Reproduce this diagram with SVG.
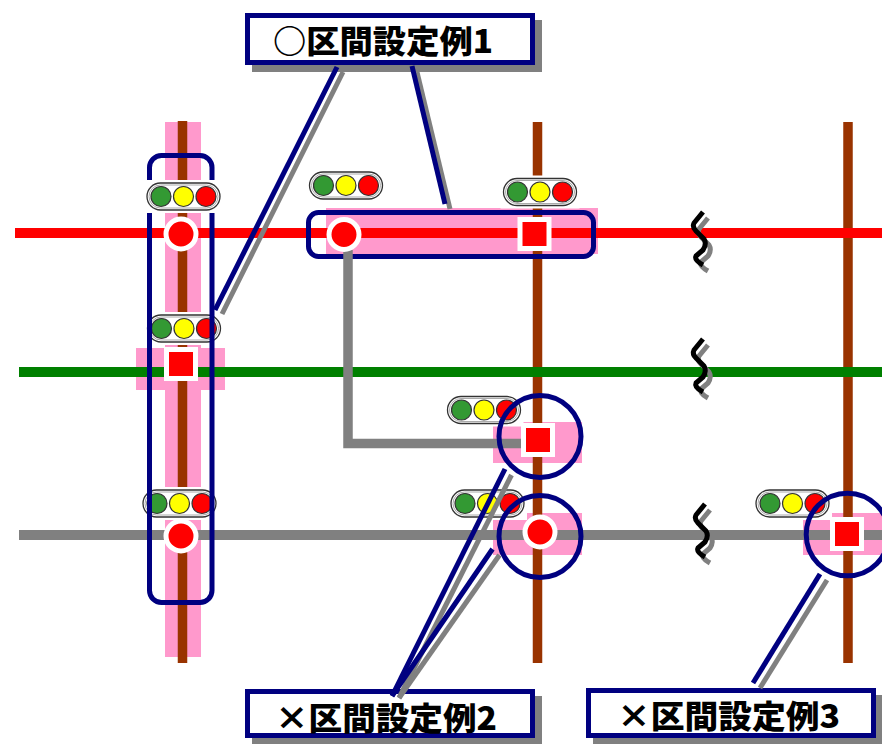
<svg xmlns="http://www.w3.org/2000/svg" xmlns:xlink="http://www.w3.org/1999/xlink" width="882" height="744" viewBox="0 0 882 744">
<style>
.pink{fill:#FF99CC}
.track{stroke:#993300;stroke-width:9.5}
.hl{stroke-width:10}
.navy{fill:none;stroke:#000080;stroke-width:5}
.wave{fill:none;stroke-width:5;stroke-linejoin:round}
.cl{stroke-width:5;fill:none}
.lbl{font-family:"Noto Sans CJK JP","Noto Sans CJK SC",sans-serif;font-weight:900;font-size:32px;fill:#000}
.mk{fill:#FF0000;stroke:#FFFFFF;stroke-width:5}
</style>
<defs>
<g id="sig">
<rect x="-39.5" y="-16.5" width="79" height="33" fill="#FFFFFF"/>
<rect x="-36.5" y="-13.5" width="73" height="27" rx="13.5" fill="#FFFFFF" stroke="#333333" stroke-width="1.3"/>
<rect x="-34.5" y="-11.5" width="69" height="23" rx="11.5" fill="none" stroke="#AAAAAA" stroke-width="1"/>
<circle cx="-22.5" cy="0" r="10" fill="#339933" stroke="#333333" stroke-width="1.2"/>
<circle cx="0" cy="0" r="10" fill="#FFFF00" stroke="#333333" stroke-width="1.2"/>
<circle cx="22.5" cy="0" r="10" fill="#FF0000" stroke="#333333" stroke-width="1.2"/>
</g>
<path id="wv" d="M3,-21 L-6,-10 Q-8,-6 -4,-2 L4,6 Q7,11 3,17 L-4,23 Q-6,27 3,32"/>
</defs>

<g id="highlights">
<rect class="pink" x="165" y="122" width="36" height="535"/>
<rect class="pink" x="136" y="348" width="89" height="42"/>
<rect class="pink" x="326" y="208" width="272" height="46"/>
<rect class="pink" x="493" y="422" width="89" height="41"/>
<rect class="pink" x="493" y="513" width="89" height="42"/>
<rect class="pink" x="803" y="513" width="79" height="42"/>
</g>

<g id="tracks">
<line class="track" x1="182.5" y1="121" x2="182.5" y2="663"/>
<line class="track" x1="537.5" y1="122" x2="537.5" y2="663"/>
<line class="track" x1="848" y1="122" x2="848" y2="663"/>
<line class="hl" x1="15" y1="233" x2="882" y2="233" stroke="#FF0000"/>
<line class="hl" x1="19" y1="372" x2="882" y2="372" stroke="#008000"/>
<line class="hl" x1="19" y1="535" x2="882" y2="535" stroke="#808080"/>
</g>

<g id="breaks">
<use xlink:href="#wv" class="wave" stroke="#808080" transform="translate(705,239)"/>
<use xlink:href="#wv" class="wave" stroke="#000000" transform="translate(700,233)"/>
<use xlink:href="#wv" class="wave" stroke="#808080" transform="translate(705,366)"/>
<use xlink:href="#wv" class="wave" stroke="#000000" transform="translate(700,360)"/>
<use xlink:href="#wv" class="wave" stroke="#808080" transform="translate(707,531)"/>
<use xlink:href="#wv" class="wave" stroke="#000000" transform="translate(702,525)"/>
</g>

<g id="signal2"><use xlink:href="#sig" transform="translate(184,328.5)"/></g>
<g id="signal3"><use xlink:href="#sig" transform="translate(179.5,503.5)"/></g>
<g id="signal4"><use xlink:href="#sig" transform="translate(346,185.5)"/></g>
<g id="signal5"><use xlink:href="#sig" transform="translate(540,192)"/></g>
<g id="signal6"><use xlink:href="#sig" transform="translate(484,410)"/></g>
<g id="signal7"><use xlink:href="#sig" transform="translate(487.5,503.5)"/></g>
<g id="signal8"><use xlink:href="#sig" transform="translate(792.5,503.5)"/></g>

<g id="box-left"><rect class="navy" x="149.5" y="155.5" width="62.5" height="447" rx="12"/></g>
<g id="box-top"><rect class="navy" x="308.5" y="212.5" width="285" height="44" rx="10"/></g>

<g id="signal1"><use xlink:href="#sig" transform="translate(183.5,196.5)"/></g>

<g id="connectors">
<path d="M348,250 V443.5 H530" fill="none" stroke="#808080" stroke-width="9.5" stroke-linejoin="miter"/>
</g>

<g id="markers">
<circle class="mk" cx="181" cy="234" r="15"/>
<rect class="mk" x="166.5" y="349.5" width="29" height="29"/>
<circle class="mk" cx="181" cy="536" r="15"/>
<circle class="mk" cx="344" cy="234.5" r="15"/>
<rect class="mk" x="520" y="219.5" width="29" height="29"/>
<rect class="mk" x="523.5" y="425.5" width="29" height="29"/>
<circle class="mk" cx="540" cy="532" r="15"/>
<rect class="mk" x="832.5" y="519.5" width="29" height="29"/>
</g>

<g id="rings">
<circle class="navy" cx="540" cy="436.5" r="41"/>
<circle class="navy" cx="540" cy="536.5" r="41"/>
<circle class="navy" cx="847.5" cy="534.5" r="41.3"/>
</g>

<g id="label1">
<rect x="252" y="20" width="290" height="52" fill="#808080"/>
<rect x="247.5" y="15.5" width="285" height="47" fill="#FFFFFF" stroke="#000080" stroke-width="5"/>
<text class="lbl" x="273" y="53" textLength="220" lengthAdjust="spacingAndGlyphs">○区間設定例1</text>
</g>
<g id="label2">
<rect x="252" y="696" width="290" height="49" fill="#808080"/>
<rect x="247.5" y="691.5" width="285" height="44" fill="#FFFFFF" stroke="#000080" stroke-width="5"/>
<text class="lbl" x="275" y="730" textLength="222" lengthAdjust="spacingAndGlyphs">×区間設定例2</text>
</g>
<g id="label3">
<rect x="593" y="695" width="290" height="50" fill="#808080"/>
<rect x="588.5" y="690.5" width="285" height="45" fill="#FFFFFF" stroke="#000080" stroke-width="5"/>
<text class="lbl" x="617" y="728" textLength="223" lengthAdjust="spacingAndGlyphs">×区間設定例3</text>
</g>

<g id="callouts">
<line class="cl" stroke="#808080" x1="343" y1="72" x2="222" y2="314"/>
<line class="cl" stroke="#000080" x1="337" y1="67" x2="215" y2="310"/>
<line class="cl" stroke="#808080" x1="417" y1="72" x2="450" y2="209"/>
<line class="cl" stroke="#000080" x1="412" y1="66" x2="445" y2="204"/>
<line class="cl" stroke="#808080" x1="511.5" y1="475" x2="399" y2="698"/>
<line class="cl" stroke="#808080" x1="499.5" y1="555" x2="399" y2="698"/>
<line class="cl" stroke="#000080" x1="505" y1="469" x2="392" y2="696"/>
<line class="cl" stroke="#000080" x1="492.5" y1="549" x2="392" y2="696"/>
<line class="cl" stroke="#808080" x1="827" y1="580" x2="760" y2="688"/>
<line class="cl" stroke="#000080" x1="820" y1="574" x2="753" y2="683"/>
</g>
</svg>
